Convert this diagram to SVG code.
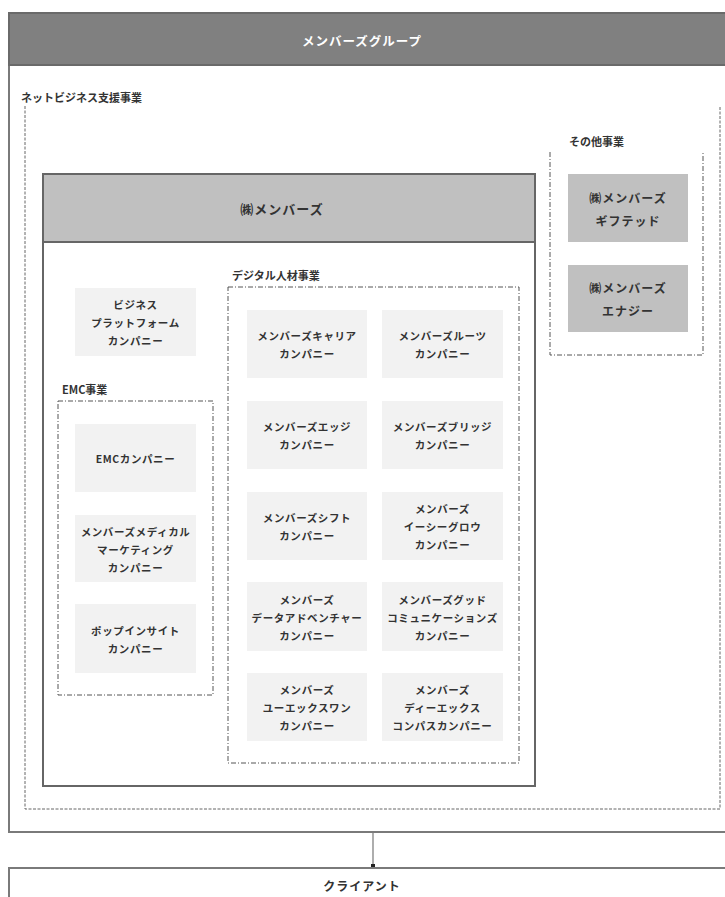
<svg xmlns="http://www.w3.org/2000/svg" width="725" height="897" viewBox="0 0 725 897">
<defs>
<style>
text{font-family:"Noto Sans CJK JP","Noto Sans",sans-serif;font-weight:bold;fill:#333;text-anchor:middle;dominant-baseline:central}
.co{font-size:10.5px;letter-spacing:0.6px}
.lbl{font-size:11px;text-anchor:start}
.cbox{fill:#f2f2f2;stroke:none}
.gbox{fill:#c0c0c0;stroke:none}
.dash1{fill:none;stroke:#666;stroke-width:1;stroke-dasharray:3 1.5}
.dash2{fill:none;stroke:#555;stroke-width:1;stroke-dasharray:5 2 1 2}
</style>
<marker id="arr" markerWidth="4" markerHeight="4" refX="2" refY="2" orient="auto"><rect x="0" y="0" width="4" height="4" fill="#222"/></marker>
</defs>
<rect width="725" height="897" fill="#fff"/>

<g id="group">
<rect x="9" y="13" width="725" height="819" fill="#fff" stroke="#7a7a7a" stroke-width="2"/>
<rect x="9" y="13" width="725" height="52" fill="#808080" stroke="#6a6a6a" stroke-width="2"/>
<text x="362" y="40" style="fill:#fff;font-size:12.5px;letter-spacing:1px">メンバーズグループ</text>
</g>

<g id="netbiz">
<text class="lbl" x="21" y="97">ネットビジネス支援事業</text>
<path class="dash1" d="M25,106 V809 H720 V106"/>
</g>

<g id="members">
<rect x="43" y="174" width="492" height="612" fill="#fff" stroke="#666" stroke-width="2"/>
<rect x="43" y="174" width="492" height="68" fill="#c0c0c0" stroke="#666" stroke-width="2"/>
<text x="282" y="208" style="font-size:13px;letter-spacing:1px">㈱メンバーズ</text>
</g>

<g id="other">
<text class="lbl" x="569" y="141">その他事業</text>
<path class="dash2" d="M550,152 V355 H703 V152"/>
</g>
<g id="gifted">
<rect class="gbox" x="568" y="174" width="120" height="68"/>
<text x="628" y="208" style="font-size:12px;letter-spacing:1px"><tspan x="628" dy="-11">㈱メンバーズ</tspan><tspan x="628" dy="23">ギフテッド</tspan></text>
</g>
<g id="energy">
<rect class="gbox" x="568" y="265" width="120" height="67"/>
<text x="628" y="298" style="font-size:12px;letter-spacing:1px"><tspan x="628" dy="-11">㈱メンバーズ</tspan><tspan x="628" dy="23">エナジー</tspan></text>
</g>

<g id="bizplatform">
<rect class="cbox" x="75" y="288" width="121" height="68"/>
<text class="co" x="135.5" y="322"><tspan x="135.5" dy="-18">ビジネス</tspan><tspan x="135.5" dy="18">プラットフォーム</tspan><tspan x="135.5" dy="18">カンパニー</tspan></text>
</g>

<g id="emc">
<text class="lbl" x="62" y="389">EMC事業</text>
<rect class="dash2" x="58" y="401" width="155" height="294"/>
</g>
<g id="emc1">
<rect class="cbox" x="75" y="424" width="121" height="68"/>
<text class="co" x="135.5" y="458">EMCカンパニー</text>
</g>
<g id="emc2">
<rect class="cbox" x="75" y="515" width="121" height="67"/>
<text class="co" x="135.5" y="548.5"><tspan x="135.5" dy="-18">メンバーズメディカル</tspan><tspan x="135.5" dy="18">マーケティング</tspan><tspan x="135.5" dy="18">カンパニー</tspan></text>
</g>
<g id="emc3">
<rect class="cbox" x="75" y="604" width="121" height="69"/>
<text class="co" x="135.5" y="638.5"><tspan x="135.5" dy="-9">ポップインサイト</tspan><tspan x="135.5" dy="18">カンパニー</tspan></text>
</g>

<g id="digital">
<text class="lbl" x="232" y="275">デジタル人材事業</text>
<rect class="dash2" x="228" y="287" width="291" height="476"/>
</g>

<g id="d1"><rect class="cbox" x="247" y="310" width="120" height="68"/>
<text class="co" x="307" y="344"><tspan x="307" dy="-9">メンバーズキャリア</tspan><tspan x="307" dy="18">カンパニー</tspan></text></g>
<g id="d2"><rect class="cbox" x="382" y="310" width="121" height="68"/>
<text class="co" x="442.5" y="344"><tspan x="442.5" dy="-9">メンバーズルーツ</tspan><tspan x="442.5" dy="18">カンパニー</tspan></text></g>
<g id="d3"><rect class="cbox" x="247" y="401" width="120" height="68"/>
<text class="co" x="307" y="435"><tspan x="307" dy="-9">メンバーズエッジ</tspan><tspan x="307" dy="18">カンパニー</tspan></text></g>
<g id="d4"><rect class="cbox" x="382" y="401" width="121" height="68"/>
<text class="co" x="442.5" y="435"><tspan x="442.5" dy="-9">メンバーズブリッジ</tspan><tspan x="442.5" dy="18">カンパニー</tspan></text></g>
<g id="d5"><rect class="cbox" x="247" y="492" width="120" height="68"/>
<text class="co" x="307" y="526"><tspan x="307" dy="-9">メンバーズシフト</tspan><tspan x="307" dy="18">カンパニー</tspan></text></g>
<g id="d6"><rect class="cbox" x="382" y="492" width="121" height="68"/>
<text class="co" x="442.5" y="526"><tspan x="442.5" dy="-18">メンバーズ</tspan><tspan x="442.5" dy="18">イーシーグロウ</tspan><tspan x="442.5" dy="18">カンパニー</tspan></text></g>
<g id="d7"><rect class="cbox" x="247" y="582" width="120" height="69"/>
<text class="co" x="307" y="616.5"><tspan x="307" dy="-18">メンバーズ</tspan><tspan x="307" dy="18">データアドベンチャー</tspan><tspan x="307" dy="18">カンパニー</tspan></text></g>
<g id="d8"><rect class="cbox" x="382" y="582" width="121" height="69"/>
<text class="co" x="442.5" y="616.5"><tspan x="442.5" dy="-18">メンバーズグッド</tspan><tspan x="442.5" dy="18">コミュニケーションズ</tspan><tspan x="442.5" dy="18">カンパニー</tspan></text></g>
<g id="d9"><rect class="cbox" x="247" y="673" width="120" height="68"/>
<text class="co" x="307" y="707"><tspan x="307" dy="-18">メンバーズ</tspan><tspan x="307" dy="18">ユーエックスワン</tspan><tspan x="307" dy="18">カンパニー</tspan></text></g>
<g id="d10"><rect class="cbox" x="382" y="673" width="121" height="68"/>
<text class="co" x="442.5" y="707"><tspan x="442.5" dy="-18">メンバーズ</tspan><tspan x="442.5" dy="18">ディーエックス</tspan><tspan x="442.5" dy="18">コンパスカンパニー</tspan></text></g>

<g id="connectors">
<line x1="373" y1="833" x2="373" y2="866" stroke="#777" stroke-width="1.2" marker-end="url(#arr)"/>
</g>

<g id="client">
<rect x="9" y="868" width="725" height="40" fill="#fff" stroke="#7a7a7a" stroke-width="2"/>
<text x="362" y="885" style="font-size:12px;letter-spacing:1px">クライアント</text>
</g>
</svg>
